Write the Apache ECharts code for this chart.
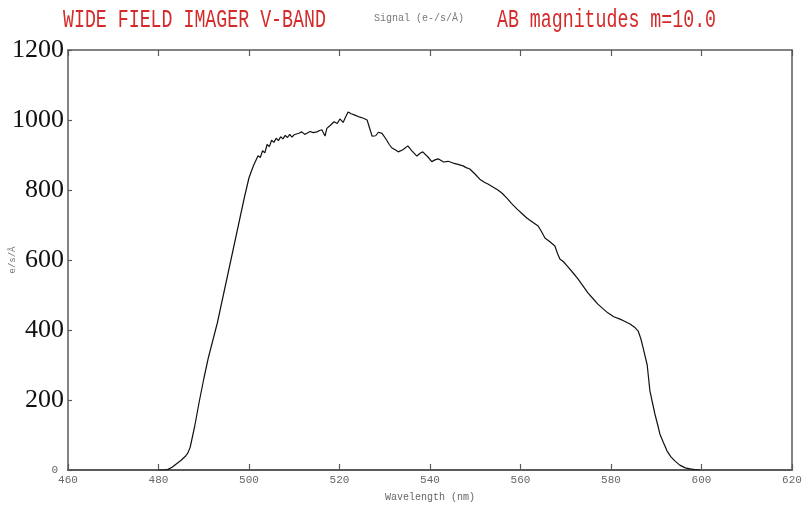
<!DOCTYPE html>
<html>
<head>
<meta charset="utf-8">
<script src="https://cdn.jsdelivr.net/npm/echarts@6/dist/echarts.min.js"></script>
<style>html,body{margin:0;padding:0;background:#fff}#c{width:802px;height:506px}</style>
</head>
<body>
<div id="c"></div>
<script>
var titleLeft = 'WIDE FIELD IMAGER V-BAND';
var titleMid = 'Signal (e-/s/Å)';
var titleRight = 'AB magnitudes m=10.0';
var xName = 'Wavelength (nm)';
var yName = 'e/s/Å';
var xTicks = [460, 480, 500, 520, 540, 560, 580, 600, 620];
var yTicks = [0, 200, 400, 600, 800, 1000, 1200];

var wavelength = [480,481,482,483,484,485,486,486.5,487,488,489,490,491,492,493,494,495,496,497,498,499,500,501,502,502.5,503,503.5,504,504.5,505,505.5,506,506.5,507,507.5,508,508.5,509,509.5,510,511,511.7,512.3,512.8,513.5,514.2,515,515.6,516.1,516.8,517.2,518,518.8,519.5,520.1,520.8,521.4,521.9,522.6,523.4,524.5,525.3,526.1,526.7,527.2,528,528.6,529.4,530.3,531,531.6,532.3,533,534,535.1,536,537.1,537.8,538.4,539.5,540.4,541.1,541.8,543,544,545.1,546.2,547.3,548,548.8,550,551,552,552.8,554,555,556,557,558,559.2,560.3,561.4,562.7,563.9,564.6,565.4,566.5,567.6,568.2,568.7,569.5,570.3,571.5,572.7,573.8,574.9,576,577.1,578.2,579.3,580.6,582,583,584.2,585.2,586,586.6,587.1,588,588.6,589.2,589.7,590.3,590.8,591.6,592.4,593.2,594.1,595.2,596.4,597.5,598.5,599.7];
var signal = [0,0,1,8,18,28,40,49,65,125,195,260,320,370,420,480,540,600,660,720,780,835,870,898,893,912,906,930,924,942,936,948,941,952,946,956,950,959,951,958,962,966,959,962,967,964,966,970,972,954,976,985,995,990,1003,993,1010,1023,1018,1014,1008,1005,1000,975,954,955,965,962,945,930,920,915,909,915,926,912,897,905,909,895,881,886,889,880,882,877,873,869,864,860,845,831,822,817,808,800,790,777,762,746,733,720,708,697,682,663,652,640,618,603,595,583,565,546,526,506,490,474,461,449,438,431,425,417,408,397,375,349,300,226,190,160,130,103,78,54,38,26,14,6,3,1,0];

var points = wavelength.map(function (w, i) { return [w, signal[i]]; });
var axisCol = '#5a5a5a';
var chart = echarts.init(document.getElementById('c'), null, {renderer: 'canvas'});
chart.setOption({
  animation: false,
  backgroundColor: '#ffffff',
  grid: {left: 68, right: 10, top: 50, bottom: 36, containLabel: false, outerBoundsMode: 'none'},
  graphic: [
    {type: 'text', x: 63, y: 20, scaleX: 0.73, style: {text: titleLeft, fill: '#d42a2a', font: '25px "Liberation Mono"', textAlign: 'left', textVerticalAlign: 'middle'}},
    {type: 'text', x: 374, y: 18, style: {text: titleMid, fill: '#777', font: '10px "Liberation Mono"', textAlign: 'left', textVerticalAlign: 'middle'}},
    {type: 'text', x: 497, y: 20, scaleX: 0.73, style: {text: titleRight, fill: '#d42a2a', font: '25px "Liberation Mono"', textAlign: 'left', textVerticalAlign: 'middle'}}
  ],
  xAxis: [
    {type: 'value', min: xTicks[0], max: xTicks[xTicks.length - 1], interval: 20, position: 'bottom',
     name: xName, nameLocation: 'middle', nameGap: 22, nameMoveOverlap: false,
     nameTextStyle: {fontFamily: 'Liberation Mono', fontSize: 10, color: '#666'},
     axisLine: {show: true, onZero: false, lineStyle: {color: axisCol, width: 2}},
     axisTick: {show: true, inside: true, length: 6, lineStyle: {color: axisCol, width: 1.2}},
     axisLabel: {fontFamily: 'Liberation Mono', fontSize: 11, color: '#666', margin: 5},
     splitLine: {show: false}},
    {type: 'value', min: xTicks[0], max: xTicks[xTicks.length - 1], interval: 20, position: 'top',
     axisLine: {show: true, onZero: false, lineStyle: {color: axisCol, width: 1.5}},
     axisTick: {show: true, inside: true, length: 6, lineStyle: {color: axisCol, width: 1.2}},
     axisLabel: {show: false}, splitLine: {show: false}}
  ],
  yAxis: [
    {type: 'value', min: yTicks[0], max: yTicks[yTicks.length - 1], interval: 200, position: 'left',
     name: yName, nameLocation: 'middle', nameGap: 51, nameRotate: 90, nameMoveOverlap: false,
     nameTextStyle: {fontFamily: 'Liberation Mono', fontSize: 9, color: '#777'},
     axisLine: {show: true, onZero: false, lineStyle: {color: axisCol, width: 1.5}},
     axisTick: {show: true, inside: true, length: 4, lineStyle: {color: axisCol, width: 1.2}},
     axisLabel: {margin: 4, formatter: function (v) { return v === 0 ? '{s|0}' : '{b|' + v + '}'; },
       rich: {b: {fontFamily: 'Liberation Serif', fontSize: 26, color: '#111'},
              s: {fontFamily: 'Liberation Mono', fontSize: 11, color: '#666', padding: [0, 6, 0, 0]}}},
     splitLine: {show: false}},
    {type: 'value', min: yTicks[0], max: yTicks[yTicks.length - 1], interval: 200, position: 'right',
     axisLine: {show: true, onZero: false, lineStyle: {color: axisCol, width: 1.5}},
     axisTick: {show: false}, axisLabel: {show: false}, splitLine: {show: false}}
  ],
  series: [{
    type: 'line', xAxisIndex: 0, yAxisIndex: 0, data: points, showSymbol: false, symbol: 'none',
    lineStyle: {color: '#111', width: 1.2}, smooth: false
  }]
});
</script>
</body>
</html>
